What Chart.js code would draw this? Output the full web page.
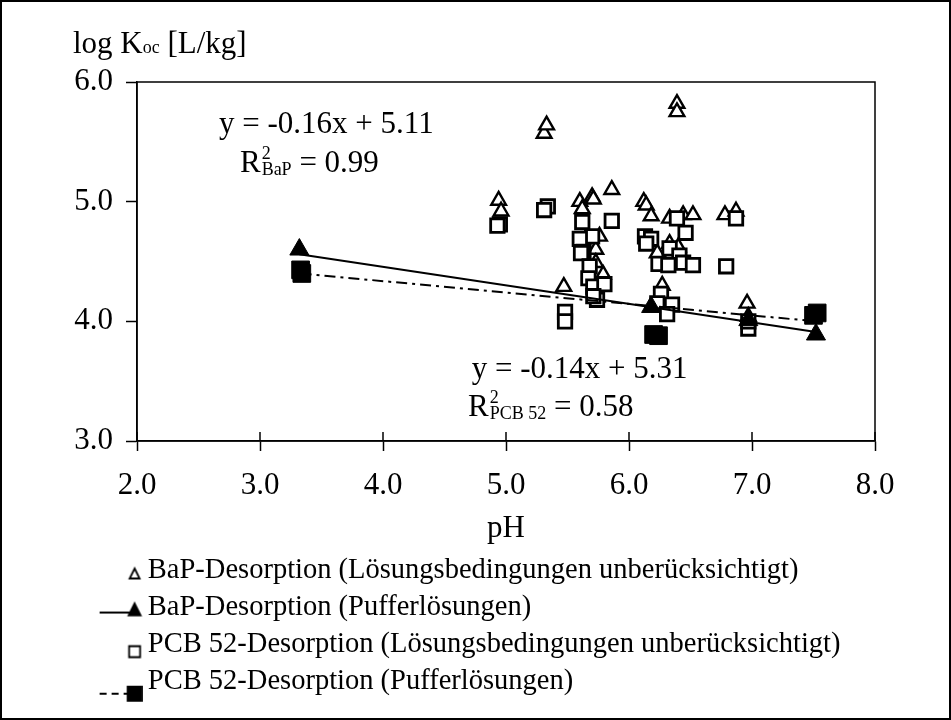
<!DOCTYPE html>
<html lang="de">
<head>
<meta charset="UTF-8">
<title>log Koc gegen pH</title>
<script src="https://cdn.jsdelivr.net/npm/chart.js"></script>
<style>
  html, body { margin: 0; padding: 0; background: #fff; }
  canvas { display: block; }
</style>
</head>
<body>
<canvas id="koc-chart" width="951" height="720"></canvas>
<script>
// BaP-Desorption (Lösungsbedingungen unberücksichtigt)
const bapFreePH  = [4.94, 4.96, 5.31, 5.33, 5.47, 5.60, 5.62, 5.70, 5.71, 5.86, 5.76, 5.73, 5.73, 5.79,
                    6.12, 6.14, 6.18, 6.33, 6.44, 6.52, 6.78, 6.87, 6.33, 6.40, 6.23, 6.27, 6.96, 6.97, 6.39, 6.39];
const bapFreeKoc = [5.01, 4.92, 5.57, 5.64, 4.29, 5.00, 4.94, 5.04, 5.02, 5.10, 4.71, 4.60, 4.49, 4.39,
                    5.00, 4.97, 4.88, 4.86, 4.89, 4.89, 4.89, 4.92, 4.65, 4.62, 4.57, 4.30, 4.15, 4.04, 5.82, 5.75];

// BaP-Desorption (Pufferlösungen)
const bapBufPH  = [3.32, 6.18, 6.97, 7.52];
const bapBufKoc = [4.60, 4.12, 4.01, 3.89];

// PCB 52-Desorption (Lösungsbedingungen unberücksichtigt)
const pcbFreePH  = [4.95, 4.93, 5.34, 5.31, 5.62, 5.70, 5.60, 5.63, 5.61, 5.68, 5.67, 5.71, 5.80, 5.86, 5.74, 5.71, 5.48, 5.48,
                    6.39, 6.87, 6.13, 6.18, 6.14, 6.46, 6.33, 6.41, 6.44, 6.24, 6.32, 6.52, 6.79, 6.26, 6.23, 6.35, 6.31, 6.97, 6.97];
const pcbFreeKoc = [4.81, 4.80, 4.96, 4.93, 4.83, 4.71, 4.69, 4.58, 4.57, 4.46, 4.36, 4.29, 4.31, 4.84, 4.18, 4.21, 4.08, 4.00,
                    4.86, 4.86, 4.71, 4.69, 4.65, 4.74, 4.61, 4.55, 4.49, 4.48, 4.47, 4.47, 4.46, 4.23, 4.15, 4.14, 4.06, 3.94, 4.00];

// PCB 52-Desorption (Pufferlösungen)
const pcbBufPH  = [3.33, 3.34, 6.20, 6.24, 7.50, 7.53];
const pcbBufKoc = [4.43, 4.40, 3.89, 3.88, 4.05, 4.07];

// Trendlinien (Endpunkte)
const bapTrendPH  = [3.32, 7.52];
const bapTrendKoc = [4.56, 3.91];
const pcbTrendPH  = [3.33, 7.52];
const pcbTrendKoc = [4.40, 4.00];

// Achsen
const xTicks = [2, 3, 4, 5, 6, 7, 8];
const yTicks = [3, 4, 5, 6];

const legendTexts = [
  'BaP-Desorption (Lösungsbedingungen unberücksichtigt)',
  'BaP-Desorption (Pufferlösungen)',
  'PCB 52-Desorption (Lösungsbedingungen unberücksichtigt)',
  'PCB 52-Desorption (Pufferlösungen)'
];

// Gleichungen, Position in Datenkoordinaten
const eqNotes = [
  { x: 2.667, y: 5.571, main: 'y = -0.16x + 5.11' },
  { x: 2.837, y: 5.245, main: 'R', sup: '2', sub: 'BaP', rest: ' = 0.99' },
  { x: 4.721, y: 3.524, main: 'y = -0.14x + 5.31' },
  { x: 4.691, y: 3.209, main: 'R', sup: '2', sub: 'PCB 52', rest: ' = 0.58' }
];

const FONT = "'Liberation Serif', 'Times New Roman', serif";
Chart.defaults.font.family = FONT;
Chart.defaults.color = '#000';

const toPoints = (xs, ys) => xs.map((x, i) => ({ x: x, y: ys[i] }));

// kleine Bilder für die Legende (Linie + Marker)
function legendSymbol(o) {
  const c = document.createElement('canvas');
  c.width = 70; c.height = 50;
  const g = c.getContext('2d');
  const mx = 62, my = 25 + o.dy;
  g.strokeStyle = '#000';
  if (o.line) {
    g.lineWidth = 2;
    g.setLineDash(o.dash || []);
    g.beginPath();
    g.moveTo(27, my + o.lineDy);
    g.lineTo(mx, my + o.lineDy);
    g.stroke();
    g.setLineDash([]);
  }
  g.fillStyle = o.filled ? '#000' : '#fff';
  g.lineWidth = 1.8;
  g.beginPath();
  const s = o.size;
  if (o.shape === 'triangle') {
    g.moveTo(mx, my - s * 0.6);
    g.lineTo(mx + s / 2, my + s * 0.4);
    g.lineTo(mx - s / 2, my + s * 0.4);
    g.closePath();
  } else {
    g.rect(mx - s / 2, my - s / 2, s, s);
  }
  g.fill();
  g.stroke();
  return c;
}

const legendSymbols = [
  legendSymbol({ shape: 'triangle', size: 10, dy: 4 }),
  legendSymbol({ shape: 'triangle', size: 12, dy: 3, filled: true, line: true, lineDy: 2 }),
  legendSymbol({ shape: 'rect', size: 11, dy: 7 }),
  legendSymbol({ shape: 'rect', size: 14, dy: 12, filled: true, line: true, lineDy: 0, dash: [7, 5] })
];

const decorations = {
  id: 'decorations',
  beforeDraw(chart) {
    const ctx = chart.ctx;
    ctx.save();
    ctx.fillStyle = '#fff';
    ctx.fillRect(0, 0, chart.width, chart.height);
    ctx.restore();
  },
  afterDraw(chart) {
    const { ctx, chartArea: a } = chart;
    const xs = chart.scales.x, ys = chart.scales.y;
    ctx.save();
    ctx.strokeStyle = '#000';
    ctx.lineWidth = 1.5;
    ctx.strokeRect(a.left, a.top, a.right - a.left, a.bottom - a.top);
    // Teilstriche der x-Achse gehen auch nach innen
    xs.ticks.forEach(t => {
      const px = xs.getPixelForValue(t.value);
      ctx.beginPath();
      ctx.moveTo(px, a.bottom - 9);
      ctx.lineTo(px, a.bottom);
      ctx.stroke();
    });
    // Rahmen ums Bild
    ctx.lineWidth = 2;
    ctx.strokeRect(1, 1, chart.width - 2, chart.height - 2);

    ctx.fillStyle = '#000';
    ctx.textAlign = 'left';
    ctx.textBaseline = 'alphabetic';
    const big = '31px ' + FONT, small = '18px ' + FONT;

    // Achsentitel oben links: log Koc [L/kg]
    let tx = a.left - 64, ty = a.top - 29;
    ctx.font = big;
    ctx.fillText('log K', tx, ty);
    tx += ctx.measureText('log K').width;
    ctx.font = small;
    ctx.fillText('oc', tx, ty);
    tx += ctx.measureText('oc').width;
    ctx.font = big;
    ctx.fillText(' [L/kg]', tx, ty);

    // Regressionsgleichungen
    eqNotes.forEach(n => {
      let px = xs.getPixelForValue(n.x);
      const py = ys.getPixelForValue(n.y);
      ctx.font = big;
      ctx.fillText(n.main, px, py);
      px += ctx.measureText(n.main).width;
      if (n.sup) {
        ctx.font = small;
        ctx.fillText(n.sup, px + 1, py - 13);
        const w1 = ctx.measureText(n.sup).width;
        ctx.fillText(n.sub, px + 1, py + 3);
        const w2 = ctx.measureText(n.sub).width;
        px += Math.max(w1, w2) + 1;
        ctx.font = big;
        ctx.fillText(n.rest, px, py);
      }
    });
    ctx.restore();
  }
};

const ctx = document.getElementById('koc-chart').getContext('2d');
const kocChart = new Chart(ctx, {
  type: 'scatter',
  data: {
    datasets: [
      {
        label: legendTexts[1],
        data: toPoints(bapBufPH, bapBufKoc),
        pointStyle: 'triangle',
        pointRadius: 11,
        backgroundColor: '#000',
        borderColor: '#000',
        borderWidth: 1,
        order: 0
      },
      {
        label: legendTexts[3],
        data: toPoints(pcbBufPH, pcbBufKoc),
        pointStyle: 'rect',
        pointRadius: 12.5,
        backgroundColor: '#000',
        borderColor: '#000',
        borderWidth: 1,
        order: 0
      },
      {
        label: 'Trend BaP',
        data: toPoints(bapTrendPH, bapTrendKoc),
        showLine: true,
        pointRadius: 0,
        borderColor: '#000',
        borderWidth: 2,
        order: 1
      },
      {
        label: 'Trend PCB 52',
        data: toPoints(pcbTrendPH, pcbTrendKoc),
        showLine: true,
        pointRadius: 0,
        borderColor: '#000',
        borderWidth: 2,
        borderDash: [11, 5, 3, 5],
        order: 1
      },
      {
        label: legendTexts[2],
        data: toPoints(pcbFreePH, pcbFreeKoc),
        pointStyle: 'rect',
        pointRadius: 9.5,
        backgroundColor: '#fff',
        borderColor: '#000',
        borderWidth: 2.8,
        order: 2
      },
      {
        label: legendTexts[0],
        data: toPoints(bapFreePH, bapFreeKoc),
        pointStyle: 'triangle',
        pointRadius: 8.5,
        backgroundColor: '#fff',
        borderColor: '#000',
        borderWidth: 2.4,
        order: 3
      }
    ]
  },
  options: {
    responsive: false,
    devicePixelRatio: 1,
    animation: false,
    layout: { padding: { left: 73, right: 76, top: 82, bottom: 14 } },
    plugins: {
      tooltip: { enabled: false },
      legend: {
        position: 'bottom',
        align: 'start',
        labels: {
          usePointStyle: true,
          pointStyleWidth: 52,
          padding: 8.6,
          font: { size: 28.5 },
          color: '#000',
          generateLabels: () => legendTexts.map((t, i) => ({
            text: t,
            pointStyle: legendSymbols[i],
            fillStyle: '#000',
            strokeStyle: '#000',
            lineWidth: 0,
            hidden: false,
            datasetIndex: i
          }))
        }
      }
    },
    scales: {
      x: {
        type: 'linear',
        min: xTicks[0],
        max: xTicks[xTicks.length - 1],
        afterFit: s => { s.height = 106.6; },
        afterBuildTicks: s => { s.ticks = xTicks.map(v => ({ value: v })); },
        ticks: {
          padding: 16.4,
          font: { size: 31 },
          color: '#000',
          maxRotation: 0,
          autoSkip: false,
          callback: v => v.toFixed(1)
        },
        grid: { drawOnChartArea: false, drawTicks: true, tickLength: 10, tickColor: '#000', tickWidth: 1.5 },
        border: { color: '#000', width: 1.5 },
        title: { display: true, text: 'pH', font: { size: 31 }, color: '#000', padding: { top: 0, bottom: 0 } }
      },
      y: {
        type: 'linear',
        min: yTicks[0],
        max: yTicks[yTicks.length - 1],
        afterFit: s => { s.width = 64; },
        afterBuildTicks: s => { s.ticks = yTicks.map(v => ({ value: v })); },
        ticks: {
          padding: 13,
          font: { size: 31 },
          color: '#000',
          autoSkip: false,
          callback: v => v.toFixed(1)
        },
        grid: { drawOnChartArea: false, drawTicks: true, tickLength: 11, tickColor: '#000', tickWidth: 1.5 },
        border: { color: '#000', width: 1.5 }
      }
    }
  },
  plugins: [decorations]
});
</script>
</body>
</html>
